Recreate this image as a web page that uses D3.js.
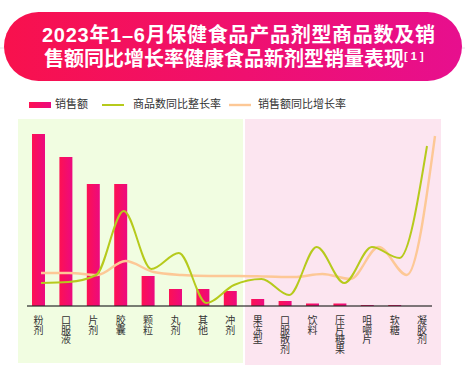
<!DOCTYPE html>
<html><head><meta charset="utf-8">
<script src="https://cdn.jsdelivr.net/npm/d3@7"></script>
<style>body{margin:0;background:#fff}svg{display:block}</style>
</head><body><svg id="c" width="465" height="372"></svg>
<script>
const categories = ["粉剂","口服液","片剂","胶囊","颗粒","丸剂","其他","冲剂","果冻型","口服散剂","饮料","压片糖果","咀嚼片","软糖","凝胶剂"];
const salesValues = [172,149,122,122,30,17,17,15,7,5,2.5,2.5,1,1,0];
const itemCountGrowth = [23,24,31,95,37,53,3,21,27,11,59,23,59,48,160];
const salesGrowth = [33,33,31,45,34,31,30,30,29.5,29,32,27,59,31,170];
const legendLabels = ["销售额","商品数同比整长率","销售额同比增长率"];
const titleLines = ["2023年1–6月保健食品产品剂型商品数及销","售额同比增长率健康食品新剂型销量表现"];
const titleNote = "[ 1 ]";
const traditionalCount = 8;

const FONT = "'Noto Sans CJK SC','Noto Sans',sans-serif";
const TFONT = "'Liberation Sans','Noto Sans CJK SC',sans-serif";
const svg = d3.select("#c");
const defs = svg.append("defs");

const tg = defs.append("linearGradient").attr("id","tg").attr("x1","0").attr("x2","1").attr("y1","0").attr("y2","0");
tg.append("stop").attr("offset","0").attr("stop-color","#f8114d");
tg.append("stop").attr("offset","1").attr("stop-color","#e70f8e");
const bg = defs.append("linearGradient").attr("id","bg").attr("x1","0").attr("x2","1").attr("y1","0").attr("y2","0");
bg.append("stop").attr("offset","0").attr("stop-color","#fd1153");
bg.append("stop").attr("offset","1").attr("stop-color","#ec0a7f");

// title banner
svg.append("line").attr("x1",0).attr("x2",465).attr("y1",48).attr("y2",48).attr("stroke","#e2e2e2").attr("stroke-width",1);
svg.append("rect").attr("x",4).attr("y",12).attr("width",458).attr("height",69).attr("rx",34.5).attr("fill","url(#tg)");
const title = svg.append("text").attr("fill","#fff").attr("font-family",TFONT).attr("font-weight",700).attr("font-size",20);
title.append("tspan").attr("x",42).attr("y",41.5).attr("textLength",393).attr("lengthAdjust","spacing").text(titleLines[0]);
title.append("tspan").attr("x",44).attr("y",65.5).text(titleLines[1]);
title.append("tspan").attr("x",404).attr("y",60).attr("font-size",11).text(titleNote);

// scales
const x = d3.scaleBand().domain(categories).range([24.8,435.8]).paddingInner(0.526).paddingOuter(0.263);
const y = d3.scaleLinear().domain([0,200]).range([306,106]);
const yr = d3.scaleLinear().domain([0,200]).range([306,106]);
const xG = d3.scalePoint().domain(categories).range([41,427]);
const xO = d3.scalePoint().domain(categories).range([41,435]);

// panels
const split = (x(categories[traditionalCount-1]) + x.bandwidth() + x(categories[traditionalCount]))/2;
svg.append("rect").attr("x",18).attr("y",119).attr("width",split-1-18).attr("height",244).attr("fill","#f1fde1");
svg.append("rect").attr("x",split+1).attr("y",119).attr("width",441-split-1).attr("height",246).attr("fill","#fce5f0");

// bars
svg.append("g").selectAll("rect").data(categories).join("rect")
  .attr("x",d=>x(d)).attr("width",x.bandwidth())
  .attr("y",(d,i)=>y(salesValues[i])).attr("height",(d,i)=>y(0)-y(salesValues[i]))
  .attr("fill","url(#bg)");

// axis line
const axis = svg.append("g").attr("transform",`translate(0,${y(0)})`).call(d3.axisBottom(x).tickSize(0).tickFormat(""));
axis.select(".domain").attr("stroke","rgba(40,40,40,0.6)").attr("stroke-width",2).attr("d","M27,0H432");

// vertical category labels (vertical writing mode)
svg.append("g").attr("font-family",FONT).attr("font-size",10).attr("fill","#333")
  .selectAll("text").data(categories).join("text")
  .attr("x",d=>x(d)+x.bandwidth()/2).attr("y",315)
  .style("writing-mode","vertical-rl").style("text-orientation","upright")
  .attr("letter-spacing",-0.3)
  .text(d=>d);

// lines
const lineO = d3.line().x((d,i)=>xO(categories[i])).y(d=>yr(d)).curve(d3.curveMonotoneX);
const lineG = d3.line().x((d,i)=>xG(categories[i])).y(d=>yr(d)).curve(d3.curveMonotoneX);
svg.append("path").attr("d",lineO(salesGrowth)).attr("fill","none").attr("stroke","#fdc896").attr("stroke-width",2.4);
svg.append("path").attr("d",lineG(itemCountGrowth)).attr("fill","none").attr("stroke","#b6ca1c").attr("stroke-width",2);

// legend
const lg = svg.append("g").attr("font-family",FONT).attr("font-size",11).attr("fill","#333");
lg.append("rect").attr("x",29).attr("y",102).attr("width",22).attr("height",6).attr("fill","url(#bg)");
lg.append("text").attr("x",55).attr("y",108).text(legendLabels[0]);
lg.append("line").attr("x1",102).attr("x2",124).attr("y1",105).attr("y2",105).attr("stroke","#b6ca1c").attr("stroke-width",2);
lg.append("text").attr("x",133).attr("y",108).text(legendLabels[1]);
lg.append("line").attr("x1",229).attr("x2",251).attr("y1",105).attr("y2",105).attr("stroke","#fdc896").attr("stroke-width",2.4);
lg.append("text").attr("x",258).attr("y",108).text(legendLabels[2]);
</script></body></html>
